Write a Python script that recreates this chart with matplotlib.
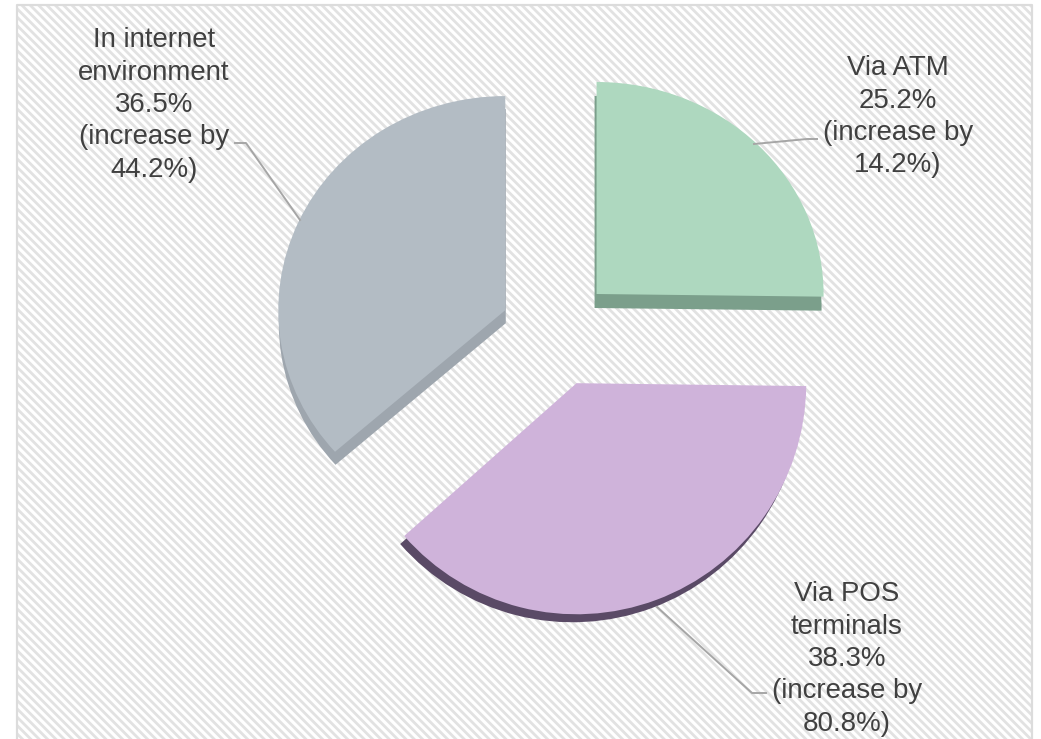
import matplotlib
matplotlib.use("Agg")
import matplotlib.pyplot as plt
from matplotlib.lines import Line2D
from matplotlib.patches import Rectangle
from matplotlib.transforms import Affine2D

# ----------------------------
# Data
# ----------------------------

shares = [25.2, 38.3, 36.5]
labels = [
    "Via ATM\n25.2%\n(increase by\n14.2%)",
    "Via POS\nterminals\n38.3%\n(increase by\n80.8%)",
    "In internet\nenvironment\n36.5%\n(increase by\n44.2%)",
]
top_colors = ["#aed8bf", "#cfb3da", "#b3bcc4"]
side_colors = ["#7b9f8b", "#5a4a66", "#9ea6ae"]
explode = [0.245, 0.26, 0.25]

# ----------------------------
# Layout (pixels of the 1041x739 picture)
# ----------------------------

W, H = 1041, 739
CX, CY = 557, 333
RX, RY = 227, 212
x_stretch = [1.0, 1.012, 1.0]
y_stretch = [1.0, 1.09, 1.01]
top_nudge = [(0, 2.5), (-1, 1.5), (0, 1)]
side_shift = [(-2, 14), (-4, 8), (0.5, 13)]
label_x = [898, 847, 154]
label_y = [75, 601, 47]
LINE_STEP = 32.5
leaders = [
    [(754, 144), (807, 139), (817, 139)],
    [(657, 607), (752, 693), (766, 693)],
    [(300, 220), (246, 143), (235, 143)],
]


def fx(px):
    return px / W


def fy(py):
    return 1 - py / H


plt.rcParams["font.family"] = ["Liberation Sans", "DejaVu Sans"]
plt.rcParams["hatch.linewidth"] = 2.0
plt.rcParams["hatch.color"] = "#e2e2e2"

fig = plt.figure(figsize=(W / 100, H / 100), dpi=100, facecolor="white")

# Striped background with a frame open at the bottom
fig.add_artist(Rectangle((fx(17), 0), (1032 - 17) / W, fy(5), transform=fig.transFigure,
                         facecolor="white", edgecolor="#e2e2e2", hatch="\\\\\\\\", lw=0, zorder=-2))
frame = [(17, 739), (17, 5), (1032, 5), (1032, 739)]
fig.add_artist(Line2D([fx(p[0]) for p in frame], [fy(p[1]) for p in frame],
                      color="#dcdcdc", lw=1.6, zorder=-1))

# ----------------------------
# Pie
# ----------------------------

ax = fig.add_axes([0, 0, 1, 1])


def shape(wedge, kx, ky, dx, dy):
    c_x, c_y = wedge.center
    wedge.set_transform(
        Affine2D().translate(-c_x, -c_y).scale(kx, ky).translate(c_x + dx / RX, c_y - dy / RY)
        + ax.transData
    )


sides, _ = ax.pie(shares, explode=explode, colors=side_colors, startangle=90, counterclock=False)
tops, _ = ax.pie(shares, explode=explode, colors=top_colors, startangle=90, counterclock=False)

ax.set_aspect("auto")
ax.set_xlim(-CX / RX, (W - CX) / RX)
ax.set_ylim(-(H - CY) / RY, CY / RY)
ax.patch.set_visible(False)

for i in range(3):
    nx, ny = top_nudge[i]
    sx, sy = side_shift[i]
    shape(sides[i], x_stretch[i], y_stretch[i], nx + sx, sy - ny)
    shape(tops[i], x_stretch[i], y_stretch[i], nx, -ny)

# ----------------------------
# Labels and leader lines
# ----------------------------

for i in range(3):
    pts = leaders[i]
    fig.add_artist(Line2D([fx(p[0]) for p in pts], [fy(p[1]) for p in pts],
                          color="#a6a6a6", lw=1.4))
    for j, line in enumerate(labels[i].split("\n")):
        fig.text(fx(label_x[i]), fy(label_y[i] + j * LINE_STEP), line,
                 ha="center", va="baseline", fontsize=19.9, color="#404040")

fig.savefig("out.png", dpi=100)
